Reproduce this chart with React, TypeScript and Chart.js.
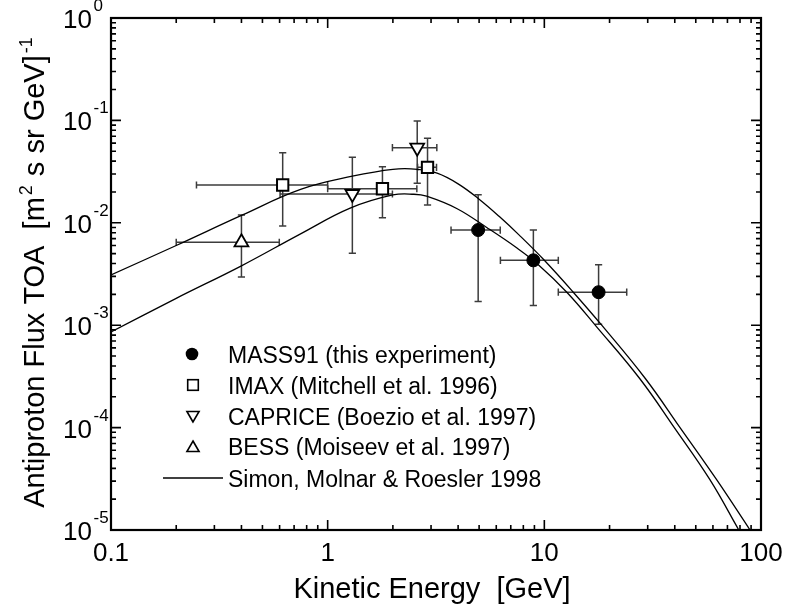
import React, { useEffect, useRef } from 'react';
import { Chart, registerables } from 'chart.js';

Chart.register(...registerables);

// ---------- data ----------
// MASS91 (this experiment)
const massX = [4.95, 8.9, 17.8];
const massY = [0.0085, 0.0043, 0.0021];
const massXLo = [3.71, 6.27, 11.6];
const massXHi = [6.26, 11.6, 24.0];
const massYLo = [0.0017, 0.00156, 0.00102];
const massYHi = [0.0188, 0.0085, 0.0039];

// IMAX (Mitchell et al. 1996)
const imaxX = [0.62, 1.79, 2.89];
const imaxY = [0.0234, 0.0215, 0.0348];
const imaxXLo = [0.248, 1.0, 2.6];
const imaxXHi = [1.0, 2.58, 3.18];
const imaxYLo = [0.0093, 0.0112, 0.0149];
const imaxYHi = [0.0484, 0.0353, 0.0668];

// CAPRICE (Boezio et al. 1997)
const capX = [1.3, 2.59];
const capY = [0.0191, 0.0541];
const capXLo = [0.603, 1.99];
const capXHi = [1.99, 3.19];
const capYLo = [0.00504, 0.0243];
const capYHi = [0.0436, 0.0986];

// BESS (Moiseev et al. 1997)
const bessX = [0.4];
const bessY = [0.00645];
const bessXLo = [0.2];
const bessXHi = [0.598];
const bessYLo = [0.00296];
const bessYHi = [0.0119];

// Simon, Molnar & Roesler 1998 (two curves)
const upperX = [0.1, 0.2, 0.4, 0.75, 1.3, 2.0, 2.6, 3.2, 4.0, 5.0, 6.2, 7.7, 9.9, 13.6, 18.4, 29.3, 42.3, 62.4, 89];
const upperY = [3.1e-3, 6.0e-3, 0.0118, 0.0212, 0.0285, 0.0333, 0.0333, 0.0305, 0.024, 0.017, 0.0115, 0.0075, 4.4e-3, 2.1e-3, 1.0e-3, 3.0e-4, 1.0e-4, 3.1e-5, 1.0e-5];
const lowerX = [0.1, 0.2, 0.4, 0.75, 1.27, 2.0, 2.5, 2.86, 3.94, 5.42, 7.45, 9.38, 12.7, 17.4, 27.6, 39.8, 58.1, 79];
const lowerY = [8.6e-4, 1.83e-3, 3.8e-3, 7.8e-3, 0.0139, 0.0187, 0.019, 0.0182, 0.0138, 0.009, 0.0057, 0.0039, 2.1e-3, 9.7e-4, 3.0e-4, 1.0e-4, 3.1e-5, 1.0e-5];

// axis ticks / labels
const xMajor = [0.1, 1, 10, 100];
const xTickLabels = ['0.1', '1', '10', '100'];
const yMajor = [1, 0.1, 0.01, 0.001, 0.0001, 0.00001];
const yTickExponents = ['0', '-1', '-2', '-3', '-4', '-5'];
const minorMultipliers = [2, 3, 4, 5, 6, 7, 8, 9];

const xTitle = 'Kinetic Energy  [GeV]';
const yTitleParts = [
  { t: 'Antiproton Flux TOA  [m', sup: false },
  { t: '2', sup: true },
  { t: ' s sr GeV]', sup: false },
  { t: '-1', sup: true },
];
const legendLabels = [
  'MASS91 (this experiment)',
  'IMAX (Mitchell et al. 1996)',
  'CAPRICE (Boezio et al. 1997)',
  'BESS (Moiseev et al. 1997)',
  'Simon, Molnar & Roesler 1998',
];

const FONT = '"Liberation Sans", Arial, Helvetica, sans-serif';

const errSets = [
  { x: massX, y: massY, xlo: massXLo, xhi: massXHi, ylo: massYLo, yhi: massYHi },
  { x: imaxX, y: imaxY, xlo: imaxXLo, xhi: imaxXHi, ylo: imaxYLo, yhi: imaxYHi },
  { x: capX, y: capY, xlo: capXLo, xhi: capXHi, ylo: capYLo, yhi: capYHi },
  { x: bessX, y: bessY, xlo: bessXLo, xhi: bessXHi, ylo: bessYLo, yhi: bessYHi },
];

function drawTriangle(ctx: CanvasRenderingContext2D, x: number, y: number, r: number, down: boolean) {
  let rad = down ? Math.PI : 0;
  ctx.beginPath();
  for (let k = 0; k < 3; k++) {
    const px = x + Math.sin(rad) * r;
    const py = y - Math.cos(rad) * r;
    if (k === 0) ctx.moveTo(px, py);
    else ctx.lineTo(px, py);
    rad += (2 * Math.PI) / 3;
  }
  ctx.closePath();
  ctx.fillStyle = '#fff';
  ctx.fill();
  ctx.stroke();
}

const decorPlugin = {
  id: 'decor',
  beforeDatasetsDraw(chart: any) {
    const ctx: CanvasRenderingContext2D = chart.ctx;
    const xs = chart.scales.x;
    const ys = chart.scales.y;
    ctx.save();
    ctx.strokeStyle = '#3c3c3c';
    ctx.lineWidth = 1.5;
    const cap = 3.6;
    errSets.forEach((s) => {
      s.x.forEach((xv, i) => {
        const px = xs.getPixelForValue(xv);
        const py = ys.getPixelForValue(s.y[i]);
        const x0 = xs.getPixelForValue(s.xlo[i]);
        const x1 = xs.getPixelForValue(s.xhi[i]);
        const y0 = ys.getPixelForValue(s.ylo[i]);
        const y1 = ys.getPixelForValue(s.yhi[i]);
        ctx.beginPath();
        ctx.moveTo(x0, py); ctx.lineTo(x1, py);
        ctx.moveTo(x0, py - cap); ctx.lineTo(x0, py + cap);
        ctx.moveTo(x1, py - cap); ctx.lineTo(x1, py + cap);
        ctx.moveTo(px, y0); ctx.lineTo(px, y1);
        ctx.moveTo(px - cap, y0); ctx.lineTo(px + cap, y0);
        ctx.moveTo(px - cap, y1); ctx.lineTo(px + cap, y1);
        ctx.stroke();
      });
    });
    ctx.restore();
  },
  afterDraw(chart: any) {
    const ctx: CanvasRenderingContext2D = chart.ctx;
    const xs = chart.scales.x;
    const ys = chart.scales.y;
    const a = chart.chartArea;
    ctx.save();
    ctx.strokeStyle = '#000';
    ctx.fillStyle = '#000';

    // ticks (inward on all four sides)
    ctx.lineWidth = 1.6;
    const majorLen = 10;
    const minorLen = 5;
    ctx.beginPath();
    xMajor.forEach((m, i) => {
      const px = xs.getPixelForValue(m);
      ctx.moveTo(px, a.bottom); ctx.lineTo(px, a.bottom - majorLen);
      ctx.moveTo(px, a.top); ctx.lineTo(px, a.top + majorLen);
      if (i < xMajor.length - 1) {
        minorMultipliers.forEach((k) => {
          const p = xs.getPixelForValue(m * k);
          ctx.moveTo(p, a.bottom); ctx.lineTo(p, a.bottom - minorLen);
          ctx.moveTo(p, a.top); ctx.lineTo(p, a.top + minorLen);
        });
      }
    });
    yMajor.forEach((m, i) => {
      const py = ys.getPixelForValue(m);
      ctx.moveTo(a.left, py); ctx.lineTo(a.left + majorLen, py);
      ctx.moveTo(a.right, py); ctx.lineTo(a.right - majorLen, py);
      if (i > 0) {
        minorMultipliers.forEach((k) => {
          const p = ys.getPixelForValue(m * k);
          ctx.moveTo(a.left, p); ctx.lineTo(a.left + minorLen, p);
          ctx.moveTo(a.right, p); ctx.lineTo(a.right - minorLen, p);
        });
      }
    });
    ctx.stroke();

    // frame
    ctx.lineWidth = 2.2;
    ctx.strokeRect(a.left, a.top, a.right - a.left, a.bottom - a.top);

    // x tick labels
    ctx.font = `26px ${FONT}`;
    ctx.textAlign = 'center';
    ctx.textBaseline = 'alphabetic';
    xMajor.forEach((m, i) => {
      ctx.fillText(xTickLabels[i], xs.getPixelForValue(m), a.bottom + 31);
    });

    // y tick labels 10^n
    yMajor.forEach((m, i) => {
      const py = ys.getPixelForValue(m);
      const base = py + 10;
      ctx.font = `26px ${FONT}`;
      ctx.textAlign = 'right';
      ctx.fillText('10', a.left - 19, base);
      ctx.font = `17px ${FONT}`;
      ctx.textAlign = 'left';
      ctx.fillText(yTickExponents[i], a.left - 17.5, base - 17);
    });

    // x title
    ctx.font = `29px ${FONT}`;
    ctx.textAlign = 'center';
    ctx.fillText(xTitle, 432, 598);

    // y title (rotated)
    ctx.save();
    ctx.translate(44, 272);
    ctx.rotate(-Math.PI / 2);
    ctx.textAlign = 'left';
    const mainF = `29px ${FONT}`;
    const supF = `18px ${FONT}`;
    let total = 0;
    const widths = yTitleParts.map((p) => {
      ctx.font = p.sup ? supF : mainF;
      const w = ctx.measureText(p.t).width + (p.sup ? 3 : 0);
      total += w;
      return w;
    });
    let cx = -total / 2;
    yTitleParts.forEach((p, i) => {
      ctx.font = p.sup ? supF : mainF;
      ctx.fillText(p.t, cx + (p.sup ? 2 : 0), p.sup ? -12 : 0);
      cx += widths[i];
    });
    ctx.restore();

    // legend
    const mx = 192;
    const tx = 228;
    const rows = [354, 385, 416, 446.5, 478];
    ctx.lineWidth = 1.6;
    ctx.beginPath();
    ctx.arc(mx, rows[0], 6.3, 0, Math.PI * 2);
    ctx.fill();
    ctx.fillStyle = '#fff';
    ctx.fillRect(mx + 1 - 5.3, rows[1] - 5.3, 10.6, 10.6);
    ctx.strokeRect(mx + 1 - 5.3, rows[1] - 5.3, 10.6, 10.6);
    drawTriangle(ctx, mx + 1, rows[2] - 1, 7, true);
    drawTriangle(ctx, mx + 1, rows[3] + 1.5, 7, false);
    ctx.lineWidth = 1.3;
    ctx.beginPath();
    ctx.moveTo(163, rows[4]);
    ctx.lineTo(223, rows[4]);
    ctx.stroke();

    ctx.fillStyle = '#000';
    ctx.font = `23px ${FONT}`;
    ctx.textAlign = 'left';
    legendLabels.forEach((l, i) => {
      ctx.fillText(l, tx, rows[i] + 8.5);
    });

    ctx.restore();
  },
};

export default function App() {
  const ref = useRef<HTMLCanvasElement | null>(null);
  useEffect(() => {
    if (!ref.current) return;
    const toPts = (xa: number[], ya: number[]) => xa.map((x, i) => ({ x, y: ya[i] }));
    const chart = new Chart(ref.current, {
      type: 'scatter',
      data: {
        datasets: [
          {
            label: legendLabels[0],
            data: toPts(massX, massY),
            pointStyle: 'circle',
            pointRadius: 6.5,
            backgroundColor: '#000',
            borderColor: '#000',
            borderWidth: 1,
          },
          {
            label: legendLabels[1],
            data: toPts(imaxX, imaxY),
            pointStyle: 'rect',
            pointRadius: 8,
            backgroundColor: '#fff',
            borderColor: '#000',
            borderWidth: 2,
          },
          {
            label: legendLabels[2],
            data: toPts(capX, capY),
            pointStyle: 'triangle',
            pointRotation: 180,
            pointRadius: 8,
            backgroundColor: '#fff',
            borderColor: '#000',
            borderWidth: 1.8,
          },
          {
            label: legendLabels[3],
            data: toPts(bessX, bessY),
            pointStyle: 'triangle',
            pointRadius: 8,
            backgroundColor: '#fff',
            borderColor: '#000',
            borderWidth: 1.8,
          },
          {
            label: legendLabels[4],
            data: toPts(upperX, upperY),
            showLine: true,
            pointRadius: 0,
            borderColor: '#000',
            borderWidth: 1.3,
            tension: 0.4,
          },
          {
            label: legendLabels[4] + ' (2)',
            data: toPts(lowerX, lowerY),
            showLine: true,
            pointRadius: 0,
            borderColor: '#000',
            borderWidth: 1.3,
            tension: 0.4,
          },
        ] as any,
      },
      options: {
        animation: false,
        responsive: false,
        events: [],
        layout: { padding: { left: 111, right: 31, top: 18, bottom: 79 } },
        plugins: { legend: { display: false }, tooltip: { enabled: false } },
        scales: {
          x: { type: 'logarithmic', min: 0.1, max: 100, display: false },
          y: { type: 'logarithmic', min: 1e-5, max: 1, display: false },
        },
      },
      plugins: [decorPlugin],
    });
    return () => chart.destroy();
  }, []);
  return (
    <div style={{ position: 'fixed', left: 0, top: 0, width: 792, height: 609, background: '#fff' }}>
      <canvas ref={ref} width={792} height={609} style={{ width: 792, height: 609, display: 'block' }} />
    </div>
  );
}
